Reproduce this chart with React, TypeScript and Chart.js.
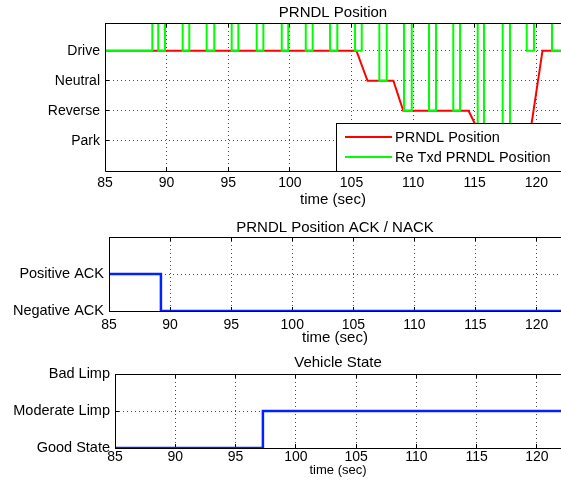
import React, { useEffect, useRef } from 'react';
import { Chart, registerables } from 'chart.js';

Chart.register(...registerables);

const FONT = "'Liberation Sans', Arial, Helvetica, sans-serif";
Chart.defaults.font.family = FONT;
Chart.defaults.color = '#000';

// ---------- shared x axis ----------
const xTickValues = [85, 90, 95, 100, 105, 110, 115, 120];
const xMin = 85;
const xMax = 122;
const xTitle = 'time (sec)';

// ---------- plot 1: PRNDL Position ----------
const prndlTitle = 'PRNDL Position';
const gearTickValues = [1, 2, 3, 4];
const gearTickLabels = ['Park', 'Reverse', 'Neutral', 'Drive'];
const prndlLabel = 'PRNDL Position';
const prndlTimes = [85, 105.4, 106.3, 108.4, 109.2, 114.5, 115.7, 119.4, 120.5, 122];
const prndlValues = [4, 4, 3, 3, 2, 2, 1, 1, 4, 4];
const reTxdLabel = 'Re Txd PRNDL Position';
// step signal: value holds from its time until the next time (7 = off-scale / invalid)
const reTxdTimes = [
  85, 88.84, 89.32, 89.87, 91.3, 91.84, 93.25, 93.87, 95.28, 95.82, 97.31, 97.85,
  99.34, 99.87, 101.29, 101.85, 103.26, 103.85, 105.29, 105.83, 107.26, 107.86,
  109.26, 109.89, 111.29, 111.86, 113.26, 113.81, 115.24, 115.75, 117.27, 117.86,
  119.22, 119.81, 121.27, 122,
];
const reTxdValues = [
  4, 7, 4, 7, 4, 7, 4, 7, 4, 7, 4, 7,
  4, 7, 4, 7, 4, 7, 4, 7, 3, 7,
  2, 7, 2, 7, 2, 7, 1, 7, 1, 7,
  4, 7, 4, 4,
];

// ---------- plot 2: ACK / NACK ----------
const ackTitle = 'PRNDL Position ACK / NACK';
const ackTickValues = [0, 1];
const ackTickLabels = ['Negative ACK', 'Positive ACK'];
const ackTimes = [85, 89.25, 122];
const ackValues = [1, 0, 0];

// ---------- plot 3: Vehicle State ----------
const stateTitle = 'Vehicle State';
const stateTickValues = [0, 1, 2];
const stateTickLabels = ['Good State', 'Moderate Limp', 'Bad Limp'];
const stateTimes = [85, 97.27, 122];
const stateValues = [0, 1, 1];

const GRID = 'rgba(0,0,0,0.7)';
const RED = '#ff0000';
const GREEN = '#00ff00';
const BLUE = '#0022ff';

const toPoints = (ts: number[], vs: number[]) => ts.map((t, i) => ({ x: t, y: vs[i] }));

const alignPx = (p: number) => Math.round(p - 0.5) + 0.5;

const framePlugin = {
  id: 'matlabFrame',
  beforeDatasetsDraw(chart: any) {
    const { ctx, chartArea: a } = chart;
    const xs = chart.scales.x;
    const ys = chart.scales.y;
    ctx.save();
    ctx.strokeStyle = '#000';
    ctx.lineWidth = 1;
    ctx.setLineDash([]);
    ctx.beginPath();
    for (const t of xs.ticks) {
      const px = alignPx(xs.getPixelForValue(t.value));
      ctx.moveTo(px, a.bottom);
      ctx.lineTo(px, a.bottom - 4);
      ctx.moveTo(px, a.top);
      ctx.lineTo(px, a.top + 4);
    }
    for (const t of ys.ticks) {
      const py = alignPx(ys.getPixelForValue(t.value));
      ctx.moveTo(a.left, py);
      ctx.lineTo(a.left + 4, py);
    }
    ctx.stroke();
    ctx.restore();
  },
  afterDatasetsDraw(chart: any, _args: any, opts: any) {
    const { ctx, chartArea: a, width } = chart;
    ctx.save();
    ctx.setLineDash([]);
    const leg = opts && opts.legend;
    if (leg) {
      const h = a.bottom - leg.y;
      ctx.fillStyle = '#fff';
      ctx.fillRect(leg.x, leg.y, width - leg.x + 5, h);
      ctx.strokeStyle = '#000';
      ctx.lineWidth = 1;
      ctx.strokeRect(leg.x + 0.5, leg.y + 0.5, width - leg.x + 5, h);
      chart.data.datasets.forEach((ds: any, i: number) => {
        const yy = leg.y + leg.firstRow + i * leg.rowGap;
        ctx.strokeStyle = ds.borderColor;
        ctx.lineWidth = 2;
        ctx.beginPath();
        ctx.moveTo(leg.x + 9, yy);
        ctx.lineTo(leg.x + 56, yy);
        ctx.stroke();
        ctx.fillStyle = '#000';
        ctx.font = `${leg.fontSize}px ${FONT}`;
        ctx.textBaseline = 'middle';
        ctx.textAlign = 'left';
        ctx.fillText(ds.label, leg.x + 59, yy + 0.5);
      });
    }
    // axes box (right edge lies outside the picture)
    ctx.strokeStyle = '#000';
    ctx.lineWidth = 1;
    ctx.beginPath();
    ctx.moveTo(width + 5, a.top + 0.5);
    ctx.lineTo(a.left + 0.5, a.top + 0.5);
    ctx.lineTo(a.left + 0.5, a.bottom + 0.5);
    ctx.lineTo(width + 5, a.bottom + 0.5);
    ctx.stroke();
    ctx.restore();
  },
};

type Spec = {
  H: number;
  L: number;
  bottom: number;
  title: string;
  titlePadTop: number;
  titlePadBottom: number;
  yMin: number;
  yMax: number;
  yTicks: number[];
  yLabels: string[];
  yFont: number;
  xTickPad: number;
  xTitleFont: number;
  xTitlePadBottom: number;
  datasets: any[];
  legend?: any;
};

function buildConfig(p: Spec): any {
  return {
    type: 'line',
    data: { datasets: p.datasets },
    options: {
      animation: false,
      responsive: false,
      maintainAspectRatio: false,
      events: [],
      layout: { padding: 0 },
      elements: { point: { radius: 0 }, line: { tension: 0 } },
      plugins: {
        legend: { display: false },
        tooltip: { enabled: false },
        title: {
          display: true,
          fullSize: false,
          text: p.title,
          color: '#000',
          font: { family: FONT, size: 15, weight: 'normal', lineHeight: 1.2 },
          padding: { top: p.titlePadTop, bottom: p.titlePadBottom },
        },
        matlabFrame: { legend: p.legend || null },
      },
      scales: {
        x: {
          type: 'linear',
          min: xMin,
          max: xMax,
          afterBuildTicks: (s: any) => {
            s.ticks = xTickValues.map((v) => ({ value: v }));
          },
          afterFit: (s: any) => {
            s.height = p.H - p.bottom;
          },
          ticks: {
            color: '#000',
            font: { family: FONT, size: 14, lineHeight: 1.2 },
            padding: p.xTickPad,
            maxRotation: 0,
            autoSkip: false,
            callback: (v: any) => String(v),
          },
          grid: { color: GRID, lineWidth: 1, drawTicks: false },
          border: { display: false, dash: [1, 3] },
          title: {
            display: true,
            text: xTitle,
            color: '#000',
            font: { family: FONT, size: p.xTitleFont, lineHeight: 1.2 },
            padding: { top: 0, bottom: p.xTitlePadBottom },
          },
        },
        y: {
          type: 'linear',
          min: p.yMin,
          max: p.yMax,
          afterBuildTicks: (s: any) => {
            s.ticks = p.yTicks.map((v) => ({ value: v }));
          },
          afterFit: (s: any) => {
            s.width = p.L;
          },
          ticks: {
            color: '#000',
            font: { family: FONT, size: p.yFont, lineHeight: 1.2 },
            padding: 5,
            autoSkip: false,
            callback: (v: any) => p.yLabels[p.yTicks.indexOf(v)],
          },
          grid: { color: GRID, lineWidth: 1, drawTicks: false },
          border: { display: false, dash: [1, 3] },
        },
      },
    },
    plugins: [framePlugin],
  };
}

const specs: { top: number; spec: Spec }[] = [
  {
    top: 0,
    spec: {
      H: 210,
      L: 105,
      bottom: 171,
      title: prndlTitle,
      titlePadTop: 3.5,
      titlePadBottom: 1.5,
      yMin: 0,
      yMax: 4.92,
      yTicks: gearTickValues,
      yLabels: gearTickLabels,
      yFont: 14,
      xTickPad: 3.6,
      xTitleFont: 15,
      xTitlePadBottom: 1,
      legend: { x: 336, y: 123, firstRow: 14, rowGap: 20, fontSize: 14.5 },
      datasets: [
        {
          label: prndlLabel,
          data: toPoints(prndlTimes, prndlValues),
          borderColor: RED,
          backgroundColor: RED,
          borderWidth: 2,
          clip: 0,
          order: 1,
        },
        {
          label: reTxdLabel,
          data: toPoints(reTxdTimes, reTxdValues),
          borderColor: GREEN,
          backgroundColor: GREEN,
          borderWidth: 2,
          stepped: true,
          clip: 0,
          order: 0,
        },
      ],
    },
  },
  {
    top: 208,
    spec: {
      H: 140,
      L: 109,
      bottom: 103,
      title: ackTitle,
      titlePadTop: 11,
      titlePadBottom: 0,
      yMin: 0,
      yMax: 2,
      yTicks: ackTickValues,
      yLabels: ackTickLabels,
      yFont: 14.5,
      xTickPad: 5.6,
      xTitleFont: 15,
      xTitlePadBottom: 1.5,
      datasets: [
        {
          label: ackTitle,
          data: toPoints(ackTimes, ackValues),
          borderColor: BLUE,
          backgroundColor: BLUE,
          borderWidth: 2.5,
          stepped: true,
        },
      ],
    },
  },
  {
    top: 346,
    spec: {
      H: 142,
      L: 115,
      bottom: 102,
      title: stateTitle,
      titlePadTop: 8.3,
      titlePadBottom: 1.7,
      yMin: 0,
      yMax: 2,
      yTicks: stateTickValues,
      yLabels: stateTickLabels,
      yFont: 14.5,
      xTickPad: 0.6,
      xTitleFont: 13,
      xTitlePadBottom: 9.5,
      datasets: [
        {
          label: stateTitle,
          data: toPoints(stateTimes, stateValues),
          borderColor: BLUE,
          backgroundColor: BLUE,
          borderWidth: 2.5,
          stepped: true,
        },
      ],
    },
  },
];

function SubChart({ spec, top }: { spec: Spec; top: number }) {
  const ref = useRef<HTMLCanvasElement | null>(null);
  useEffect(() => {
    const chart = new Chart(ref.current as HTMLCanvasElement, buildConfig(spec));
    return () => chart.destroy();
  }, [spec]);
  return (
    <canvas
      ref={ref}
      width={561}
      height={spec.H}
      style={{ position: 'absolute', left: 0, top, width: 561, height: spec.H }}
    />
  );
}

export default function App() {
  return (
    <div
      style={{
        position: 'absolute',
        left: 0,
        top: 0,
        width: 561,
        height: 488,
        overflow: 'hidden',
        background: '#fff',
      }}
    >
      {specs.map((s, i) => (
        <SubChart key={i} spec={s.spec} top={s.top} />
      ))}
    </div>
  );
}
